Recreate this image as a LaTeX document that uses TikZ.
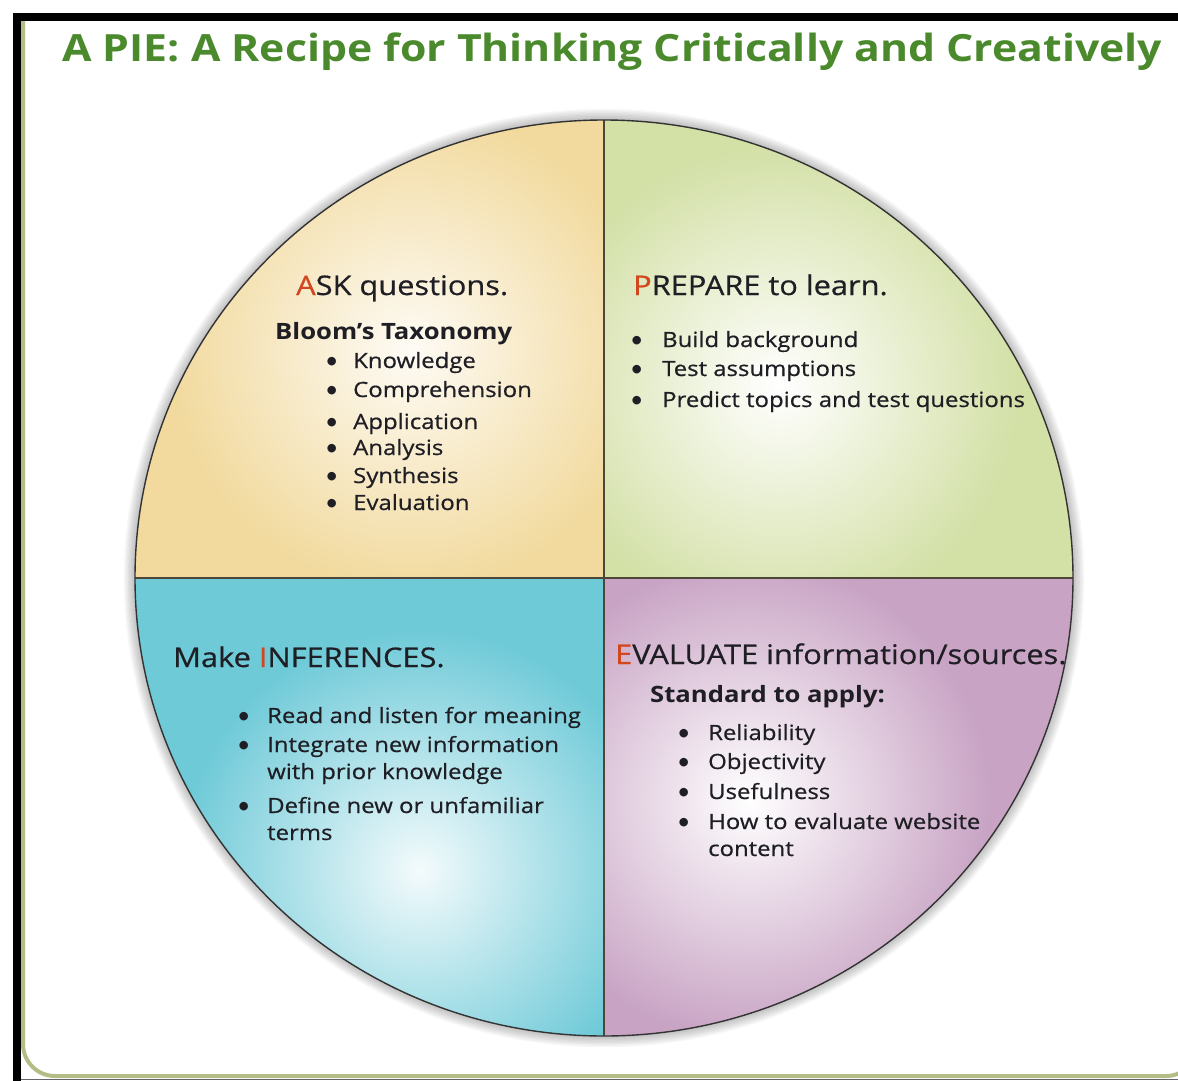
\documentclass[tikz,border=0pt]{standalone}
\usepackage{fontspec}
\setmainfont{Open Sans}[FakeStretch=1.14]
\newfontfamily\bodyfont{Open Sans}[FakeStretch=1.14, FakeBold=0.6]
\newfontfamily\bulfont{Lato}
\definecolor{qtl}{HTML}{F2DA9E}
\definecolor{qtr}{HTML}{D3E0A6}
\definecolor{qbl}{HTML}{6FCAD8}
\definecolor{qbr}{HTML}{C8A3C4}
\definecolor{titlegreen}{HTML}{4A8A2C}
\definecolor{initred}{HTML}{D2471E}
\definecolor{txt}{HTML}{1E1E24}
\definecolor{framegreen}{HTML}{B4BD86}
\definecolor{divider}{HTML}{4E4636}
\newcommand{\ini}[1]{\textcolor{initred}{#1}}
\newcommand{\bul}[1]{\makebox[#1][l]{\bulfont\fontsize{23}{26}\selectfont •}}
\tikzset{
  head/.style={anchor=base west, inner sep=0pt, font=\bodyfont\fontsize{27}{32}\selectfont, text=txt},
  sub/.style={anchor=base west, inner sep=0pt, font=\bfseries\fontsize{22.5}{26}\selectfont, text=txt},
  item/.style={anchor=base west, inner sep=0pt, font=\bodyfont\fontsize{21}{26}\selectfont, text=txt},
  pieline/.style={draw=divider, line width=1.6pt},
}
\begin{document}
\begin{tikzpicture}[x=1pt,y=-1pt]
\useasboundingbox (0,0) rectangle (1178,1081);
\fill[white] (0,0) rectangle (1178,1081);
% frame
\draw[black!60, line width=1.5pt] (21,1079.5) -- (1178,1079.5);
\draw[framegreen, line width=4pt, rounded corners=32pt] (23,15) -- (23,1076) -- (1198,1076) -- (1198,15);
\fill[black] (13,13) rectangle (1178,21);
\fill[black] (13,13) rectangle (21,1081);
% title
\node[anchor=base west, inner sep=0pt, text=titlegreen, font=\bfseries\fontsize{37.5}{44}\selectfont] (title) at (62,62) {A PIE: A Recipe for Thinking Critically and Creatively};
% pie shadow
\foreach \i in {1,...,8}
  \fill[black, opacity=0.03] (604,578) ellipse [x radius={469pt+\i*1.4pt}, y radius={458pt+\i*1.4pt}];
% quadrants
\begin{scope}
  \clip (604,578) ellipse [x radius=469pt, y radius=458pt];
  \fill[qtl] (100,100) rectangle (604,578);
  \fill[qtr] (604,100) rectangle (1100,578);
  \fill[qbl] (100,578) rectangle (604,1060);
  \fill[qbr] (604,578) rectangle (1100,1060);
  \begin{scope}
    \clip (100,100) rectangle (604,578);
    \shade[inner color=white!90!qtl, outer color=qtl] (410,350) circle (240pt);
  \end{scope}
  \begin{scope}
    \clip (604,100) rectangle (1100,578);
    \shade[inner color=white, outer color=qtr] (780,385) circle (240pt);
  \end{scope}
  \begin{scope}
    \clip (100,578) rectangle (604,1060);
    \shade[inner color=white!92!qbl, outer color=qbl] (420,870) circle (240pt);
  \end{scope}
  \begin{scope}
    \clip (604,578) rectangle (1100,1060);
    \shade[inner color=white, outer color=qbr] (750,800) circle (240pt);
  \end{scope}
\end{scope}
% dividers and outline
\coordinate (ptop) at (604,120);
\coordinate (pbot) at (604,1036);
\coordinate (pleft) at (135,578);
\coordinate (pright) at (1073,578);
\draw[pieline] (ptop) -- (pbot);
\draw[pieline] (pleft) -- (pright);
\draw[black!80, line width=1.4pt] (604,578) ellipse [x radius=469pt, y radius=458pt];
% ASK
\node[head] (ask) at (296,295) {\ini{A}SK questions.};
\node[sub] (bloom) at (275,339) {Bloom’s Taxonomy};
\node[item] (k1) at (325,368) {\bul{28pt}Knowledge};
\node[item] (k2) at (325,397) {\bul{28pt}Comprehension};
\node[item] (k3) at (325,429) {\bul{28pt}Application};
\node[item] (k4) at (325,455) {\bul{28pt}Analysis};
\node[item] (k5) at (325,483) {\bul{28pt}Synthesis};
\node[item] (k6) at (325,510) {\bul{28pt}Evaluation};
% PREPARE
\node[head] (prep) at (633,295) {\ini{P}REPARE to learn.};
\node[item] (p1) at (630,347) {\bul{32pt}Build background};
\node[item] (p2) at (630,376) {\bul{32pt}Test assumptions};
\node[item] (p3) at (630,407) {\bul{32pt}Predict topics and test questions};
% INFERENCES
\node[head] (inf) at (173,667) {Make \ini{I}NFERENCES.};
\node[item] (i1) at (237,723) {\bul{30pt}Read and listen for meaning};
\node[item] (i2) at (237,752) {\bul{30pt}Integrate new information};
\node[item] (i2b) at (267,779) {with prior knowledge};
\node[item] (i3) at (237,813) {\bul{30pt}Define new or unfamiliar};
\node[item] (i3b) at (267,840) {terms};
% EVALUATE
\node[head] (eval) at (615,664) {\ini{E}VALUATE information/sources.};
\node[sub] (std) at (650,702) {Standard to apply:};
\node[item] (e1) at (677,740) {\bul{31pt}Reliability};
\node[item] (e2) at (677,769) {\bul{31pt}Objectivity};
\node[item] (e3) at (677,799) {\bul{31pt}Usefulness};
\node[item] (e4) at (677,829) {\bul{31pt}How to evaluate website};
\node[item] (e4b) at (708,856) {content};
\end{tikzpicture}
\end{document}
